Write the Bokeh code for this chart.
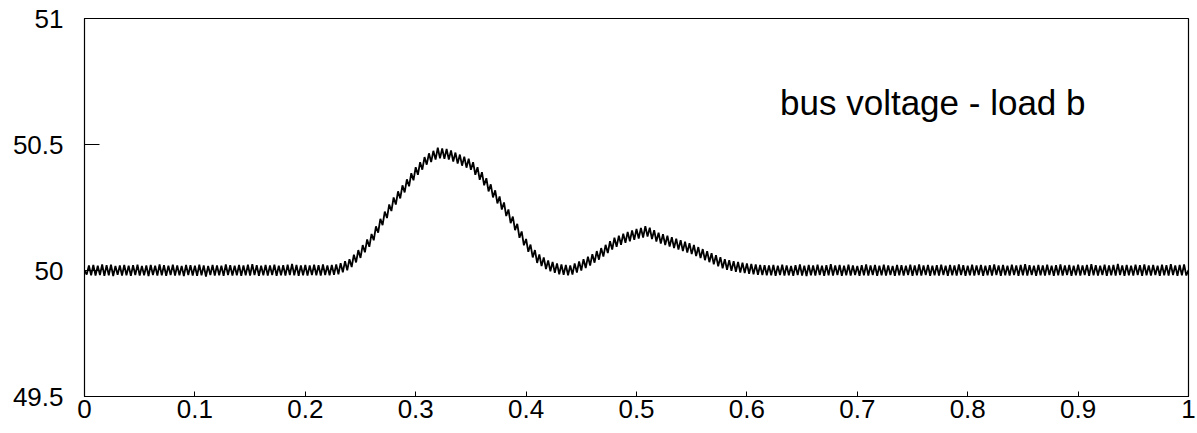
import numpy as np
from bokeh.plotting import figure
from bokeh.models import FixedTicker, Label, ColumnDataSource
from bokeh.embed import file_html
from bokeh.resources import INLINE

# ---- data (ripple samples every 0.002) ----
v_pre = [
    50.000, 49.984, 50.020, 49.981, 50.022, 49.980, 50.019, 49.982, 50.024, 49.979,
    50.021, 49.981, 50.023, 49.978, 50.018, 49.983, 50.020, 49.980, 50.022, 49.981,
    50.019, 49.979, 50.021, 49.982, 50.023, 49.980, 50.018, 49.981, 50.020, 49.978,
    50.022, 49.982, 50.019, 49.980, 50.024, 49.981, 50.021, 49.979, 50.019, 49.982,
    50.023, 49.980, 50.020, 49.981, 50.018, 49.978, 50.022, 49.982, 50.021, 49.980,
    50.019, 49.979, 50.023, 49.981, 50.020, 49.976, 50.018, 49.982, 50.022, 49.980,
    50.020, 49.981, 50.019, 49.979, 50.024, 49.982, 50.021, 49.980, 50.019, 49.981,
    50.022, 49.979, 50.020, 49.981, 50.023, 49.980, 50.025, 49.982, 50.021, 49.979,
    50.019, 49.981, 50.022, 49.980, 50.020, 49.982, 50.023, 49.979, 50.019, 49.981,
    50.021, 49.980, 50.023, 49.982, 50.026, 49.981, 50.022, 49.979, 50.020, 49.981,
    50.022, 49.980, 50.020, 49.982, 50.023, 49.981, 50.021, 49.980, 50.024, 49.982,
]
v_swing = [
    50.020, 49.981, 50.022, 49.983, 50.024, 49.985, 50.029, 49.993, 50.037, 50.001,
    50.045, 50.014, 50.063, 50.032, 50.081, 50.050, 50.101, 50.072, 50.123, 50.094,
    50.145, 50.120, 50.175, 50.150, 50.205, 50.180, 50.234, 50.208, 50.262, 50.236,
    50.290, 50.262, 50.314, 50.286, 50.338, 50.310, 50.362, 50.334, 50.386, 50.358,
    50.410, 50.380, 50.430, 50.400, 50.450, 50.420, 50.465, 50.430, 50.475, 50.440,
    50.487, 50.445, 50.484, 50.443, 50.482, 50.440, 50.476, 50.432, 50.468, 50.424,
    50.460, 50.416, 50.452, 50.408, 50.444, 50.400, 50.430, 50.380, 50.410, 50.360,
    50.390, 50.338, 50.366, 50.314, 50.342, 50.290, 50.318, 50.266, 50.294, 50.242,
    50.270, 50.216, 50.242, 50.188, 50.214, 50.160, 50.185, 50.130, 50.155, 50.100,
    50.125, 50.074, 50.103, 50.052, 50.081, 50.030, 50.064, 50.018, 50.052, 50.006,
    50.040, 49.997, 50.034, 49.991, 50.028, 49.985, 50.024, 49.983, 50.022, 49.981,
    50.020, 49.984, 50.028, 49.992, 50.036, 50.000, 50.045, 50.010, 50.055, 50.020,
    50.065, 50.031, 50.077, 50.043, 50.089, 50.055, 50.102, 50.069, 50.116, 50.083,
    50.130, 50.094, 50.138, 50.102, 50.146, 50.110, 50.153, 50.116, 50.159, 50.122,
    50.165, 50.127, 50.169, 50.131, 50.176, 50.135, 50.170, 50.125, 50.160, 50.115,
    50.150, 50.107, 50.144, 50.101, 50.138, 50.095, 50.132, 50.089, 50.126, 50.083,
    50.120, 50.077, 50.114, 50.071, 50.108, 50.065, 50.101, 50.057, 50.093, 50.049,
    50.085, 50.041, 50.077, 50.033, 50.069, 50.025, 50.061, 50.017, 50.053, 50.009,
    50.045, 50.003, 50.041, 49.999, 50.037, 49.995, 50.034, 49.992, 50.031, 49.990,
    50.028, 49.987, 50.026, 49.985, 50.024, 49.983, 50.022, 49.982, 50.021, 49.981,
]
v_post = [
    50.020, 49.981, 50.022, 49.979, 50.019, 49.982, 50.023, 49.980, 50.020, 49.981,
    50.018, 49.979, 50.021, 49.982, 50.024, 49.980, 50.019, 49.978, 50.022, 49.981,
    50.020, 49.980, 50.023, 49.982, 50.019, 49.979, 50.021, 49.981, 50.025, 49.980,
    50.020, 49.982, 50.022, 49.979, 50.019, 49.981, 50.023, 49.980, 50.020, 49.982,
    50.018, 49.979, 50.021, 49.981, 50.024, 49.980, 50.020, 49.982, 50.022, 49.979,
    50.019, 49.981, 50.023, 49.980, 50.020, 49.982, 50.018, 49.979, 50.022, 49.981,
    50.021, 49.980, 50.019, 49.982, 50.023, 49.979, 50.020, 49.981, 50.024, 49.980,
    50.020, 49.982, 50.022, 49.979, 50.019, 49.981, 50.021, 49.980, 50.023, 49.982,
    50.019, 49.979, 50.022, 49.981, 50.020, 49.980, 50.024, 49.982, 50.021, 49.979,
    50.019, 49.981, 50.023, 49.980, 50.020, 49.982, 50.022, 49.979, 50.019, 49.981,
    50.021, 49.980, 50.024, 49.982, 50.020, 49.979, 50.022, 49.981, 50.019, 49.980,
    50.023, 49.982, 50.020, 49.979, 50.022, 49.981, 50.025, 49.980, 50.021, 49.982,
    50.019, 49.979, 50.022, 49.981, 50.020, 49.980, 50.023, 49.982, 50.019, 49.979,
    50.021, 49.981, 50.024, 49.980, 50.020, 49.982, 50.022, 49.979, 50.019, 49.981,
    50.023, 49.980, 50.020, 49.982, 50.022, 49.979, 50.025, 49.981, 50.021, 49.980,
    50.019, 49.982, 50.023, 49.979, 50.020, 49.981, 50.022, 49.980, 50.026, 49.982,
    50.020, 49.979, 50.022, 49.981, 50.019, 49.980, 50.023, 49.982, 50.021, 49.979,
    50.024, 49.981, 50.020, 49.980, 50.022, 49.982, 50.019, 49.979, 50.023, 49.981,
    50.021, 49.980, 50.025, 49.982, 50.020, 49.979, 50.022, 49.981, 50.024, 49.980,
    50.002,
]
t_start, t_end = 0.0, 1.0

x_ticks = [0.0, 0.1, 0.2, 0.3, 0.4, 0.5, 0.6, 0.7, 0.8, 0.9, 1.0]
x_labels = ["0", "0.1", "0.2", "0.3", "0.4", "0.5", "0.6", "0.7", "0.8", "0.9", "1"]
y_ticks = [49.5, 50.0, 50.5, 51.0]
y_labels = ["49.5", "50", "50.5", "51"]
annotation = "bus voltage - load b"

v = np.array(v_pre + v_swing + v_post)
t = np.linspace(t_start, t_end, len(v))
src = ColumnDataSource(dict(t=t, v=v))

FONT = "Liberation Sans"

p = figure(width=1197, height=433, x_range=(0, 1), y_range=(49.5, 51),
           output_backend="svg", toolbar_location=None,
           min_border_left=84, min_border_right=9, min_border_top=18, min_border_bottom=37)
p.background_fill_color = "white"
p.border_fill_color = "white"
p.grid.visible = False
p.outline_line_color = "black"
p.outline_line_width = 1.2

p.line("t", "v", source=src, line_color="black", line_width=1.8)

for ax in (p.xaxis[0], p.yaxis[0]):
    ax.axis_line_color = "black"
    ax.major_tick_line_color = "black"
    ax.minor_tick_line_color = None
    ax.major_tick_out = 0
    ax.major_label_text_font = FONT
    ax.major_label_text_font_size = "26px"
    ax.major_label_text_color = "black"

p.xaxis.ticker = FixedTicker(ticks=x_ticks)
p.xaxis.major_label_overrides = {k: l for k, l in zip(x_ticks, x_labels)}
p.xaxis.major_tick_in = 5
p.xaxis.major_label_standoff = 3

p.yaxis.ticker = FixedTicker(ticks=y_ticks)
p.yaxis.major_label_overrides = {k: l for k, l in zip(y_ticks, y_labels)}
p.yaxis.major_tick_in = 15
p.yaxis.major_label_standoff = 21

p.add_layout(Label(x=0.63, y=50.667, text=annotation, text_font=FONT,
                   text_font_size="35px", text_color="black",
                   text_baseline="alphabetic", text_align="left"))

open("out.html", "w").write(file_html(p, INLINE))
